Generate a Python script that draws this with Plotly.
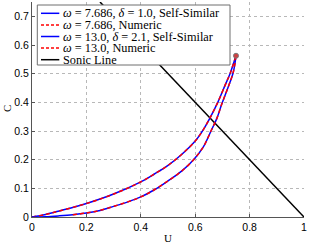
import plotly.graph_objects as go

# ---- data ----
u_a = [0.0, 0.05, 0.1, 0.2, 0.3, 0.4, 0.45, 0.5, 0.55, 0.6, 0.63, 0.654, 0.683, 0.71, 0.728, 0.75]
c_a = [0.0, 0.009, 0.021, 0.047, 0.08, 0.1225, 0.15, 0.18, 0.218, 0.265, 0.305, 0.345, 0.4, 0.46, 0.5, 0.5625]

u_b = [0.0, 0.05, 0.1, 0.15, 0.2, 0.25, 0.3, 0.35, 0.4, 0.45, 0.5, 0.55, 0.594, 0.63, 0.658, 0.68, 0.698, 0.72, 0.74, 0.75]
c_b = [0.0, 0.001, 0.004, 0.008, 0.014, 0.023, 0.037, 0.052, 0.07, 0.095, 0.126, 0.16, 0.2, 0.245, 0.3, 0.345, 0.395, 0.45, 0.505, 0.5625]
num_b_start = 3  # numeric ω=13.0 curve begins near U≈0.15

sonic_u = [0.25, 1.0]
sonic_c = [0.75, 0.0]

end_u = [0.75]
end_c = [0.5625]

legend_labels = [
    "<i>ω</i> = 7.686, <i>δ</i> = 1.0, Self-Similar",
    "<i>ω</i> = 7.686, Numeric",
    "<i>ω</i> = 13.0, <i>δ</i> = 2.1, Self-Similar",
    "<i>ω</i> = 13.0, Numeric",
    "Sonic Line",
]
x_ticks = [0, 0.2, 0.4, 0.6, 0.8, 1.0]
x_tick_text = ["0", "0.2", "0.4", "0.6", "0.8", "1"]
y_ticks = [0, 0.1, 0.2, 0.3, 0.4, 0.5, 0.6, 0.7]
y_tick_text = ["0", "0.1", "0.2", "0.3", "0.4", "0.5", "0.6", "0.7"]
x_title = "U"
y_title = "C"

BLUE = "#0000ff"
RED = "#ff0000"
W, H = 310, 243
P_L, P_R, P_T, P_B = 32, 304, 2, 217

fig = go.Figure()
fig.add_trace(go.Scatter(x=sonic_u, y=sonic_c, mode="lines",
                         line=dict(color="black", width=1.5), name=legend_labels[4]))
fig.add_trace(go.Scatter(x=u_a, y=c_a, mode="lines", line_shape="spline",
                         line=dict(color=BLUE, width=1.5), name=legend_labels[0]))
fig.add_trace(go.Scatter(x=u_a, y=c_a, mode="lines", line_shape="spline",
                         line=dict(color=RED, width=1.5, dash="4px,3px"), name=legend_labels[1]))
fig.add_trace(go.Scatter(x=u_b, y=c_b, mode="lines", line_shape="spline",
                         line=dict(color=BLUE, width=1.5), name=legend_labels[2]))
fig.add_trace(go.Scatter(x=u_b[num_b_start:], y=c_b[num_b_start:], mode="lines", line_shape="spline",
                         line=dict(color=RED, width=1.5, dash="4px,3px"), name=legend_labels[3]))
fig.add_trace(go.Scatter(x=end_u, y=end_c, mode="markers",
                         marker=dict(symbol="circle", size=5, color="#d04040",
                                     line=dict(color="#777777", width=1)),
                         showlegend=False))


def px2x(px):
    return (px - P_L) / (P_R - P_L)


def py2y(py):
    return (P_B - py) / (P_B - P_T)


shapes = []
annotations = []
# legend box
shapes.append(dict(type="rect", xref="paper", yref="paper",
                   x0=px2x(37.3), x1=px2x(230), y0=py2y(65), y1=py2y(5),
                   fillcolor="white", line=dict(color="#6e6e6e", width=1), layer="above"))
styles = [(BLUE, "solid"), (RED, "dash"), (BLUE, "solid"), (RED, "dash"), ("black", "solid")]
for i, (lab, (col, dsh)) in enumerate(zip(legend_labels, styles)):
    yc = 13.3 + i * 11.6
    shapes.append(dict(type="line", xref="paper", yref="paper",
                       x0=px2x(41), x1=px2x(59.3), y0=py2y(yc), y1=py2y(yc),
                       line=dict(color=col, width=1.5, dash=("3px,2px" if dsh == "dash" else "solid")),
                       layer="above"))
    annotations.append(dict(xref="paper", yref="paper", x=px2x(60.5), y=py2y(yc),
                            xanchor="left", yanchor="middle", text=lab, showarrow=False,
                            font=dict(family="Liberation Serif", size=12.3, color="black")))

annotations.append(dict(xref="paper", yref="paper", x=0.5, y=py2y(237.5),
                        xanchor="center", yanchor="middle", text=x_title, showarrow=False,
                        font=dict(family="Liberation Serif", size=11, color="black")))
annotations.append(dict(xref="paper", yref="paper", x=px2x(6.5), y=py2y(108.5),
                        xanchor="center", yanchor="middle", text=y_title, showarrow=False,
                        textangle=-90,
                        font=dict(family="Liberation Serif", size=11, color="black")))

axis_common = dict(showgrid=True, gridcolor="#b8b8b8", griddash="dot", gridwidth=1,
                   zeroline=False, showline=True, linecolor="#555555", linewidth=1,
                   ticks="inside", ticklen=3, tickcolor="#555555", automargin=False,
                   tickfont=dict(family="Liberation Sans", size=10.5, color="black"))

fig.update_layout(
    width=W, height=H,
    margin=dict(l=P_L, r=W - P_R, t=P_T, b=H - P_B, pad=0),
    paper_bgcolor="white", plot_bgcolor="white",
    showlegend=False, hovermode=False,
    shapes=shapes, annotations=annotations,
    xaxis=dict(range=[0, 1], tickvals=x_ticks, ticktext=x_tick_text, **axis_common),
    yaxis=dict(range=[0, 0.75], tickvals=y_ticks, ticktext=y_tick_text, **axis_common),
)

fig.write_html("out.html", config={"displayModeBar": False, "staticPlot": True},
               post_script="document.body.style.margin='0';document.body.style.padding='0';"
                           "document.documentElement.style.overflow='hidden';")
